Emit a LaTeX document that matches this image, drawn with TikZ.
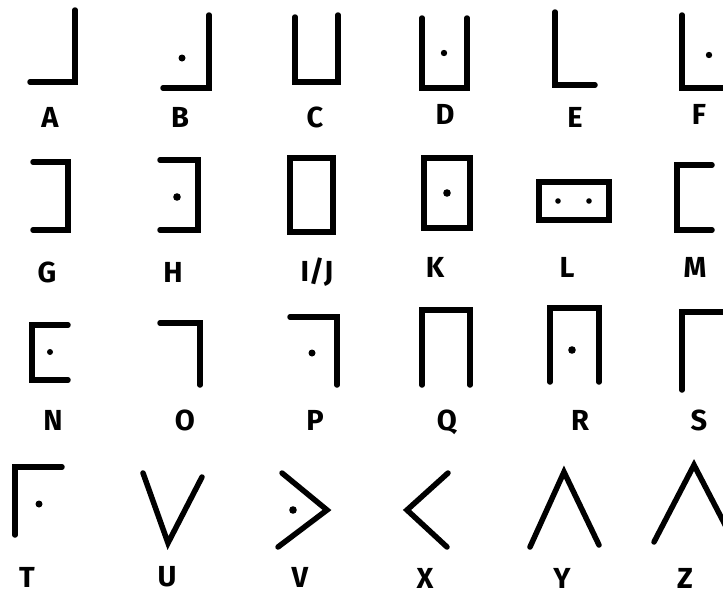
\documentclass[tikz,border=0pt]{standalone}
\usepackage{fontspec}
\setmainfont{Fira Sans}
\begin{document}
\begin{tikzpicture}[x=1pt,y=-1pt,
  glyph/.style={line width=5.5pt,line cap=round,line join=miter},
  lbl/.style={font=\fontsize{29}{32}\selectfont\bfseries,inner sep=0pt,anchor=center},
  dotmark/.style={fill=black}]
\useasboundingbox (0,0) rectangle (723,595);
% Row 1
\draw[glyph] (30,82) -- (75,82) -- (75,10);
\node[lbl] (A) at (50,117) {A};
\draw[glyph] (163,88) -- (209,88) -- (209,15);
\fill[dotmark] (182,58) circle (3.5);
\node[lbl] (B) at (180,117) {B};
\draw[glyph] (295,17) -- (295,82) -- (338,82) -- (338,15);
\node[lbl] (C) at (315,117) {C};
\draw[glyph] (422,18) -- (422,88) -- (467,88) -- (467,18);
\fill[dotmark] (444,53) circle (3.2);
\node[lbl] (D) at (445,114) {D};
\draw[glyph] (555,12) -- (555,85) -- (595,85);
\node[lbl] (E) at (575,117) {E};
\draw[glyph] (682,15) -- (682,88) -- (730,88);
\fill[dotmark] (709,55) circle (3.2);
\node[lbl] (F) at (699,114) {F};
% Row 2
\draw[glyph] (33,162) -- (68,162) -- (68,230) -- (33,230);
\node[lbl] (G) at (47,272) {G};
\draw[glyph] (160,160) -- (198,160) -- (198,230) -- (160,230);
\fill[dotmark] (177,197) circle (3.8);
\node[lbl] (H) at (173,272) {H};
\draw[glyph] (290,158) rectangle (333,232);
\node[lbl] (IJ) at (317,272) {I/J};
\draw[glyph] (424,158) rectangle (470,228);
\fill[dotmark] (447,193) circle (3.8);
\node[lbl] (K) at (435,267) {K};
\draw[glyph] (539,182) rectangle (609,220);
\fill[dotmark] (558,201) circle (2.8);
\fill[dotmark] (589,201) circle (2.8);
\node[lbl] (L) at (567,267) {L};
\draw[glyph] (712,165) -- (677,165) -- (677,230) -- (712,230);
\node[lbl] (M) at (695,267) {M};
% Row 3
\draw[glyph] (68,325) -- (32,325) -- (32,380) -- (68,380);
\fill[dotmark] (50,352) circle (3);
\node[lbl] (N) at (53,420) {N};
\draw[glyph] (160,323) -- (200,323) -- (200,385);
\node[lbl] (O) at (185,420) {O};
\draw[glyph] (290,317) -- (337,317) -- (337,385);
\fill[dotmark] (312,353) circle (3.5);
\node[lbl] (P) at (315,420) {P};
\draw[glyph] (422,385) -- (422,310) -- (470,310) -- (470,385);
\node[lbl] (Q) at (447,422) {Q};
\draw[glyph] (550,382) -- (550,308) -- (599,308) -- (599,382);
\fill[dotmark] (572,350) circle (3.8);
\node[lbl] (R) at (580,420) {R};
\draw[glyph] (682,390) -- (682,312) -- (730,312);
\node[lbl] (S) at (699,420) {S};
% Row 4
\draw[glyph] (15,535) -- (15,467) -- (62,467);
\fill[dotmark] (39,504) circle (3.5);
\node[lbl] (T) at (27,577) {T};
\draw[glyph] (143,473) -- (168,543) -- (202,477);
\node[lbl] (U) at (167,577) {U};
\draw[glyph] (282,473) -- (327,510) -- (278,547);
\fill[dotmark] (293,510) circle (3.8);
\node[lbl] (V) at (300,577) {V};
\draw[glyph] (448,473) -- (407,510) -- (447,547);
\node[lbl] (X) at (425,578) {X};
\draw[glyph] (530,547) -- (564,472) -- (599,545);
\node[lbl] (Y) at (562,578) {Y};
\draw[glyph] (654,542) -- (694,465) -- (734,542);
\node[lbl] (Z) at (685,578) {Z};
\end{tikzpicture}
\end{document}
